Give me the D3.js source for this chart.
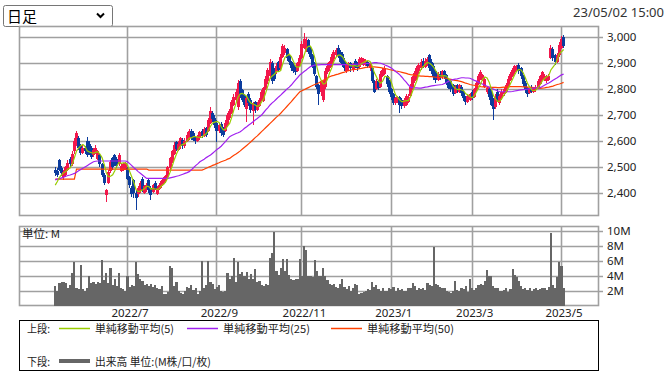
<!DOCTYPE html>
<html>
<head>
<meta charset="utf-8">
<script src="https://cdn.jsdelivr.net/npm/d3@7"></script>
<style>
  body { margin: 0; background: #fff; }
  svg text { font-family: "Noto Sans", "Liberation Sans", sans-serif; }
  .jp { font-family: "Noto Sans CJK JP", "Noto Sans", sans-serif; }
</style>
</head>
<body>
<div id="chart"></div>
<script>
// ---- data (daily candles, 2022/5/13 .. 2023/5/2) ----
const opens = [
  2490,2485,2525,2495,2460,2470,2490,2530,2510,2560,
  2590,2610,2580,2555,2575,2600,2590,2575,2545,2560,
  2530,2545,2510,2470,2390,2440,2485,2535,2545,2530,
  2510,2485,2490,2495,2495,2460,2420,2450,2400,2395,
  2410,2455,2400,2410,2450,2420,2405,2440,2395,2415,
  2425,2440,2445,2460,2495,2520,2550,2595,2565,2580,
  2605,2580,2600,2610,2640,2630,2615,2600,2610,2640,
  2620,2650,2640,2670,2710,2690,2670,2640,2665,2650,
  2640,2660,2690,2710,2740,2760,2730,2830,2795,2775,
  2725,2780,2760,2715,2750,2720,2735,2760,2755,2800,
  2830,2850,2900,2870,2866,2905,2880,2925,2940,2955,
  2930,2905,2895,2885,2870,2895,2920,2960,2950,2990,
  2960,2930,2900,2850,2815,2790,2760,2810,2865,2880,
  2890,2915,2930,2960,2945,2935,2910,2870,2880,2900,
  2875,2910,2900,2885,2900,2895,2900,2905,2880,2880,
  2830,2800,2830,2810,2850,2860,2850,2830,2800,2780,
  2745,2750,2770,2760,2735,2740,2750,2775,2800,2830,
  2840,2870,2880,2910,2885,2895,2930,2905,2890,2870,
  2835,2860,2845,2870,2855,2830,2830,2815,2785,2815,
  2790,2810,2790,2770,2750,2760,2790,2770,2795,2820,
  2840,2835,2810,2790,2800,2790,2760,2730,2790,2745,
  2765,2780,2790,2810,2835,2850,2865,2870,2895,2880,
  2850,2825,2805,2785,2810,2790,2795,2805,2820,2840,
  2835,2830,2835,2920,2955,2930,2905,2930,2960,3000
];
const highs = [
  2500,2495,2530,2505,2490,2505,2525,2540,2560,2610,
  2640,2620,2590,2585,2580,2615,2600,2580,2575,2585,
  2565,2550,2515,2475,2415,2490,2525,2540,2550,2540,
  2555,2510,2515,2520,2500,2465,2425,2455,2410,2425,
  2445,2460,2430,2440,2455,2425,2435,2445,2425,2440,
  2450,2460,2470,2505,2540,2565,2597,2600,2600,2615,
  2610,2610,2635,2645,2645,2640,2620,2625,2640,2645,
  2655,2655,2690,2731,2715,2700,2680,2670,2675,2655,
  2680,2710,2725,2760,2780,2800,2835,2840,2800,2780,
  2770,2790,2765,2750,2755,2750,2765,2795,2810,2850,
  2880,2915,2910,2880,2900,2910,2935,2975,2970,2960,
  2935,2910,2900,2890,2905,2930,2985,3018,3000,2995,
  2965,2935,2905,2855,2820,2835,2830,2880,2900,2910,
  2935,2950,2960,2970,2950,2945,2920,2900,2905,2905,
  2900,2915,2905,2924,2925,2920,2915,2910,2905,2885,
  2835,2840,2835,2870,2880,2890,2855,2835,2805,2785,
  2770,2775,2775,2765,2765,2780,2780,2820,2850,2870,
  2890,2900,2915,2920,2920,2925,2937,2915,2900,2875,
  2865,2870,2875,2875,2860,2840,2835,2820,2815,2820,
  2820,2815,2795,2775,2780,2785,2795,2805,2830,2860,
  2875,2860,2845,2810,2805,2795,2765,2780,2800,2780,
  2800,2810,2825,2850,2865,2880,2895,2895,2900,2885,
  2855,2830,2810,2805,2815,2810,2815,2840,2855,2870,
  2860,2855,2860,2970,2962,2935,2940,2980,3005,3008
];
const lows = [
  2465,2460,2485,2465,2450,2460,2485,2500,2505,2550,
  2580,2565,2545,2550,2550,2540,2545,2530,2540,2550,
  2525,2500,2460,2430,2365,2435,2475,2490,2505,2495,
  2505,2480,2485,2490,2450,2420,2385,2380,2334,2385,
  2400,2405,2395,2405,2400,2373,2400,2410,2390,2410,
  2420,2430,2440,2455,2490,2515,2545,2560,2560,2570,
  2570,2575,2595,2605,2605,2600,2590,2595,2605,2610,
  2615,2615,2635,2665,2675,2650,2596,2630,2620,2615,
  2635,2655,2680,2705,2735,2750,2720,2765,2750,2730,
  2673,2735,2710,2661,2710,2715,2730,2755,2750,2795,
  2820,2840,2820,2830,2860,2865,2875,2920,2930,2910,
  2895,2870,2862,2855,2865,2890,2915,2955,2945,2935,
  2915,2880,2850,2800,2740,2775,2750,2800,2860,2870,
  2885,2905,2925,2920,2900,2885,2870,2862,2870,2868,
  2868,2880,2870,2880,2895,2890,2890,2880,2870,2825,
  2785,2795,2795,2805,2845,2855,2810,2780,2760,2739,
  2740,2745,2708,2725,2728,2735,2745,2770,2795,2825,
  2835,2860,2875,2880,2880,2890,2870,2860,2835,2825,
  2830,2835,2840,2840,2815,2800,2790,2775,2780,2785,
  2785,2775,2755,2740,2745,2755,2760,2765,2790,2815,
  2835,2830,2805,2780,2760,2735,2681,2725,2750,2740,
  2760,2775,2785,2805,2830,2845,2860,2865,2860,2840,
  2810,2785,2770,2780,2785,2785,2790,2800,2815,2835,
  2830,2825,2830,2915,2910,2895,2900,2925,2955,2958
];
const closes = [
  2475,2470,2490,2475,2480,2500,2515,2510,2550,2600,
  2630,2575,2555,2575,2560,2545,2555,2540,2565,2575,
  2560,2510,2470,2440,2410,2480,2520,2500,2515,2505,
  2545,2505,2510,2515,2455,2430,2395,2400,2380,2420,
  2440,2415,2425,2430,2410,2390,2430,2415,2420,2430,
  2445,2455,2465,2500,2535,2560,2585,2570,2590,2610,
  2580,2600,2625,2640,2615,2605,2600,2615,2635,2620,
  2645,2625,2680,2715,2685,2660,2640,2660,2630,2625,
  2670,2700,2715,2750,2770,2790,2825,2775,2760,2740,
  2765,2745,2720,2745,2720,2740,2760,2790,2805,2840,
  2873,2905,2830,2840,2890,2875,2925,2965,2960,2920,
  2905,2880,2870,2865,2900,2920,2975,2995,2990,2945,
  2925,2890,2860,2810,2780,2830,2820,2870,2890,2905,
  2925,2945,2950,2930,2905,2895,2880,2895,2900,2880,
  2895,2885,2880,2915,2920,2915,2910,2890,2900,2830,
  2790,2830,2805,2860,2875,2880,2820,2790,2770,2745,
  2765,2770,2740,2735,2760,2775,2770,2810,2845,2862,
  2880,2895,2905,2890,2910,2915,2880,2870,2845,2835,
  2860,2845,2870,2850,2825,2805,2800,2780,2810,2795,
  2815,2785,2765,2750,2775,2780,2765,2800,2825,2850,
  2865,2855,2840,2805,2770,2740,2725,2770,2760,2775,
  2790,2800,2815,2840,2860,2875,2890,2885,2870,2850,
  2820,2795,2780,2800,2790,2805,2810,2830,2850,2865,
  2850,2845,2850,2960,2920,2905,2930,2970,2995,2965
];
// closes of the 4 sessions before the window, for the 5-day average
const priorCloses = [2400, 2410, 2425, 2440];

// volume, millions of shares
const volumes = [
  2.6,2.0,3.0,3.1,3.1,3.0,2.4,2.8,4.4,5.9,
  2.3,2.2,5.5,2.2,2.0,2.4,4.0,3.0,3.2,2.9,
  3.1,3.0,6.1,3.4,4.4,3.0,5.1,2.8,3.5,2.6,
  4.3,2.4,2.2,2.0,3.9,2.5,2.7,2.6,5.9,4.2,
  3.6,3.3,2.7,2.9,2.6,2.9,2.5,2.8,2.4,2.2,
  2.6,1.6,1.5,1.8,5.3,5.1,2.6,3.1,2.0,1.7,
  1.6,1.9,2.5,2.3,2.8,2.1,2.4,1.6,1.9,6.0,
  2.4,2.7,6.0,3.1,2.9,2.2,2.5,2.7,1.9,1.8,
  2.0,4.3,3.6,4.0,6.4,3.2,5.9,4.2,4.5,3.9,
  4.5,3.5,4.2,3.5,4.9,3.2,3.3,2.7,2.6,2.9,
  2.8,6.4,7.0,9.9,4.6,4.1,5.1,6.3,4.6,6.3,
  4.1,3.6,3.4,3.5,3.6,6.3,4.0,8.0,7.4,3.9,
  4.0,3.8,6.1,4.6,3.9,4.0,5.1,3.9,3.4,2.9,
  2.7,2.9,2.5,2.3,2.9,3.5,2.5,2.2,2.6,2.0,
  2.3,2.9,2.8,1.6,1.7,1.8,2.0,2.2,2.1,3.2,
  2.5,2.7,2.2,2.0,2.3,1.9,2.0,2.4,2.2,2.5,
  2.0,2.3,2.1,2.2,1.9,2.0,2.4,2.4,3.0,2.6,
  2.1,2.3,2.2,2.3,2.1,3.0,2.8,2.6,7.8,2.9,
  2.8,2.5,2.3,2.4,2.0,1.8,1.7,2.0,3.3,2.1,
  1.9,2.4,2.2,2.6,1.8,3.6,2.3,2.1,2.4,2.7,
  2.9,2.8,3.3,4.7,4.0,4.0,2.6,2.4,2.3,2.0,
  1.9,2.1,2.3,1.8,2.2,4.9,4.1,3.8,3.3,2.6,
  2.2,2.3,2.1,2.4,2.0,2.2,2.3,2.1,2.2,2.3,
  2.4,2.1,2.5,9.7,2.7,2.4,3.8,5.9,5.3,2.4
];

// 25-day and 50-day simple moving averages, as drawn by the source
const ma25 = [
  2450,2453,2455,2458,2461,2464,2467,2469,2472,2475,
  2480,2485,2490,2495,2500,2505,2510,2515,2520,2522,
  2523,2523,2523,2523,2523,2523,2523,2523,2523,2523,
  2523,2523,2523,2523,2520,2513,2505,2497,2490,2482,
  2476,2469,2462,2456,2456,2456,2456,2456,2456,2456,
  2456,2456,2456,2456,2458,2460,2462,2464,2466,2469,
  2472,2475,2478,2482,2489,2497,2505,2512,2520,2525,
  2530,2536,2541,2546,2553,2560,2567,2573,2580,2589,
  2598,2607,2617,2621,2625,2629,2632,2636,2642,2649,
  2655,2662,2668,2674,2681,2687,2694,2700,2710,2720,
  2729,2739,2747,2754,2762,2770,2777,2785,2793,2801,
  2808,2816,2826,2836,2845,2855,2861,2868,2874,2881,
  2887,2890,2893,2894,2894,2895,2895,2895,2895,2895,
  2895,2895,2895,2895,2895,2895,2895,2895,2895,2895,
  2895,2896,2896,2897,2897,2898,2899,2899,2900,2901,
  2902,2902,2901,2900,2897,2893,2890,2886,2882,2875,
  2868,2862,2855,2846,2836,2827,2817,2808,2806,2805,
  2805,2804,2804,2806,2808,2809,2811,2813,2814,2815,
  2816,2817,2818,2822,2826,2831,2835,2837,2839,2840,
  2842,2844,2844,2843,2843,2842,2838,2834,2831,2827,
  2823,2819,2815,2811,2807,2803,2800,2797,2793,2790,
  2790,2790,2790,2790,2790,2791,2793,2794,2796,2797,
  2798,2799,2800,2802,2803,2804,2805,2805,2806,2810,
  2815,2820,2824,2829,2834,2839,2844,2850,2855,2858
];
const ma50 = [
  2453,2453,2453,2453,2453,2453,2453,2453,2453,2453,
  2492,2492,2492,2492,2492,2492,2492,2492,2492,2492,
  2492,2492,2492,2492,2492,2492,2492,2492,2492,2492,
  2492,2492,2492,2492,2492,2492,2492,2492,2492,2492,
  2492,2492,2492,2492,2488,2488,2488,2488,2488,2488,
  2488,2488,2488,2488,2488,2488,2488,2488,2488,2488,
  2488,2488,2488,2488,2488,2488,2488,2488,2488,2488,
  2491,2495,2499,2502,2506,2509,2513,2516,2520,2523,
  2526,2530,2533,2539,2545,2550,2556,2562,2569,2576,
  2583,2590,2597,2605,2613,2620,2628,2636,2644,2652,
  2660,2668,2676,2684,2692,2699,2707,2716,2725,2734,
  2743,2752,2762,2771,2781,2790,2794,2798,2802,2806,
  2810,2814,2818,2821,2825,2829,2834,2838,2843,2848,
  2851,2853,2856,2858,2861,2864,2866,2869,2871,2874,
  2875,2876,2877,2879,2880,2882,2884,2885,2887,2886,
  2886,2885,2884,2883,2881,2879,2878,2876,2874,2872,
  2870,2869,2867,2865,2863,2861,2858,2856,2855,2854,
  2852,2851,2850,2850,2849,2849,2848,2848,2847,2846,
  2846,2845,2844,2843,2841,2840,2838,2836,2834,2833,
  2831,2829,2826,2823,2821,2818,2816,2815,2813,2812,
  2810,2809,2809,2808,2808,2807,2807,2807,2806,2806,
  2807,2808,2808,2809,2810,2810,2810,2810,2810,2810,
  2809,2809,2808,2808,2807,2806,2805,2804,2803,2804,
  2805,2807,2808,2810,2812,2815,2818,2820,2823,2826
];

// axes
const priceTicks = [2400, 2500, 2600, 2700, 2800, 2900, 3000];
const volumeTicks = [2, 4, 6, 8, 10];
const monthLabels = ['2022/7', '2022/9', '2022/11', '2023/1', '2023/3', '2023/5'];
const monthIndex = [34, 76, 116, 158, 196, 238]; // first session of each month

// ---- layout ----
const WIDTH = 670;
const HEIGHT = 378;
const PLOT = { left: 19, right: 598 };
const PRICE = { top: 26, bottom: 215 };
const VOL = { top: 226, bottom: 305 };
const GRID = '#a0a0a0';
const UP = '#f2174b';
const DOWN = '#0c3c9d';

const svg = d3.select('#chart')
  .append('svg')
  .attr('width', WIDTH)
  .attr('height', HEIGHT);

const x = d3.scaleLinear()
  .domain([-16.8, 255.4])
  .range([PLOT.left, PLOT.right]);
const step = x(1) - x(0);
const px = i => Math.round(x(i));

const yPrice = d3.scaleLinear()
  .domain([2314.7, 3043.6])
  .range([PRICE.bottom, PRICE.top]);

const yVol = d3.scaleLinear()
  .domain([0, 10])
  .range([305.5, 231]);

// moving averages
const allCloses = priorCloses.concat(closes);
const ma5 = closes.map((c, i) => d3.mean(allCloses.slice(i, i + 5)));

// ---- header ----
const dd = svg.append('g');
dd.append('rect')
  .attr('x', 3.5).attr('y', 5.5)
  .attr('width', 109).attr('height', 21)
  .attr('rx', 2)
  .attr('fill', '#fff')
  .attr('stroke', '#767676');
dd.append('text')
  .attr('class', 'jp')
  .attr('x', 7).attr('y', 21.5)
  .style('font-size', '15px')
  .attr('fill', '#000')
  .text('日足');
dd.append('path')
  .attr('d', 'M97,13.5 L100.5,17 L104,13.5')
  .attr('fill', 'none')
  .attr('stroke', '#000')
  .attr('stroke-width', 2);

svg.append('text')
  .attr('x', 664).attr('y', 17)
  .attr('text-anchor', 'end')
  .style('font-size', '13px')
  .attr('fill', '#333')
  .text('23/05/02 15:00');

// ---- grids ----
function panelGrid(top, bottom, scale, ticks, fmt) {
  const g = svg.append('g');
  g.selectAll('line.h')
    .data(ticks)
    .enter()
    .append('line')
    .attr('x1', PLOT.left).attr('x2', PLOT.right + 5)
    .attr('y1', d => Math.round(scale(d)) + 0.5)
    .attr('y2', d => Math.round(scale(d)) + 0.5)
    .attr('stroke', GRID)
    .attr('stroke-width', 1.6);
  g.selectAll('line.v')
    .data(monthIndex)
    .enter()
    .append('line')
    .attr('x1', d => px(d) + 0.5)
    .attr('x2', d => px(d) + 0.5)
    .attr('y1', top).attr('y2', bottom)
    .attr('stroke', GRID)
    .attr('stroke-width', 1.6);
  g.append('rect')
    .attr('x', PLOT.left + 0.5).attr('y', top + 0.5)
    .attr('width', PLOT.right - PLOT.left).attr('height', bottom - top)
    .attr('fill', 'none')
    .attr('stroke', GRID)
    .attr('stroke-width', 1.6);
  g.selectAll('text')
    .data(ticks)
    .enter()
    .append('text')
    .attr('x', PLOT.right + 9)
    .attr('y', d => scale(d) + 4)
    .style('font-size', '11.5px')
    .attr('fill', '#222')
    .text(fmt);
}
panelGrid(PRICE.top, PRICE.bottom, yPrice, priceTicks, d3.format(','));
panelGrid(VOL.top, VOL.bottom, yVol, volumeTicks, d => d + 'M');

// ---- candles ----
const candles = svg.append('g').attr('shape-rendering', 'crispEdges');
candles.selectAll('rect.wick')
  .data(closes)
  .enter()
  .append('rect')
  .attr('class', 'wick')
  .attr('x', (d, i) => px(i))
  .attr('width', 1)
  .attr('y', (d, i) => yPrice(highs[i]))
  .attr('height', (d, i) => yPrice(lows[i]) - yPrice(highs[i]))
  .attr('fill', (d, i) => d >= opens[i] ? UP : DOWN);
candles.selectAll('rect.body')
  .data(closes)
  .enter()
  .append('rect')
  .attr('class', 'body')
  .attr('x', (d, i) => px(i) - 1)
  .attr('width', 3)
  .attr('y', (d, i) => yPrice(Math.max(d, opens[i])))
  .attr('height', (d, i) => Math.max(1, Math.abs(yPrice(d) - yPrice(opens[i]))))
  .attr('fill', (d, i) => d >= opens[i] ? UP : DOWN);

// ---- moving averages ----
const maLine = d3.line()
  .x((d, i) => x(i) + 0.5)
  .y(d => yPrice(d));
[[ma50, '#ff4000'], [ma25, '#a020f0'], [ma5, '#99cc00']].forEach(([series, color]) => {
  svg.append('path')
    .datum(series)
    .attr('d', maLine)
    .attr('fill', 'none')
    .attr('stroke', color)
    .attr('stroke-width', 1.2);
});

// ---- volume ----
svg.append('g')
  .selectAll('rect')
  .data(volumes)
  .enter()
  .append('rect')
  .attr('x', (d, i) => x(i) - step / 2 + 0.5)
  .attr('width', step)
  .attr('y', d => yVol(d))
  .attr('height', d => yVol(0) - yVol(d))
  .attr('fill', '#666')
  .attr('shape-rendering', 'crispEdges');

svg.append('text')
  .attr('class', 'jp')
  .attr('x', 22).attr('y', 238)
  .style('font-size', '11px')
  .attr('textLength', 38)
  .attr('lengthAdjust', 'spacingAndGlyphs')
  .attr('fill', '#222')
  .text('単位: M');

// month labels
svg.append('g')
  .selectAll('text')
  .data(monthLabels)
  .enter()
  .append('text')
  .attr('x', (d, i) => x(monthIndex[i]) + 3)
  .attr('y', 317)
  .attr('text-anchor', 'middle')
  .style('font-size', '11.5px')
  .attr('fill', '#222')
  .text(d => d);

// ---- legend ----
const legend = svg.append('g');
legend.append('rect')
  .attr('x', 19.5).attr('y', 320.5)
  .attr('width', 579).attr('height', 50)
  .attr('fill', '#fff')
  .attr('stroke', '#000');

const legendRows = [
  { label: '上段:', y: 333, items: [
    { x: 59, color: '#99cc00', w: 1.5, text: '単純移動平均(5)', len: 79 },
    { x: 187, color: '#a020f0', w: 1.5, text: '単純移動平均(25)', len: 87 },
    { x: 331, color: '#ff4000', w: 1.5, text: '単純移動平均(50)', len: 87 }
  ] },
  { label: '下段:', y: 365.5, items: [
    { x: 59, color: '#666', w: 4, text: '出来高 単位:(M株/口/枚)', len: 116 }
  ] }
];
legendRows.forEach(row => {
  legend.append('text')
    .attr('class', 'jp')
    .attr('x', 27).attr('y', row.y)
    .style('font-size', '11px')
    .attr('textLength', 23)
    .attr('lengthAdjust', 'spacingAndGlyphs')
    .attr('fill', '#222')
    .text(row.label);
  row.items.forEach(it => {
    legend.append('line')
      .attr('x1', it.x).attr('x2', it.x + 31)
      .attr('y1', row.y - 4.5).attr('y2', row.y - 4.5)
      .attr('stroke', it.color)
      .attr('stroke-width', it.w);
    legend.append('text')
      .attr('class', 'jp')
      .attr('x', it.x + 36).attr('y', row.y)
      .style('font-size', '11px')
      .attr('textLength', it.len)
      .attr('lengthAdjust', 'spacingAndGlyphs')
      .attr('fill', '#222')
      .text(it.text);
  });
});
</script>
</body>
</html>
